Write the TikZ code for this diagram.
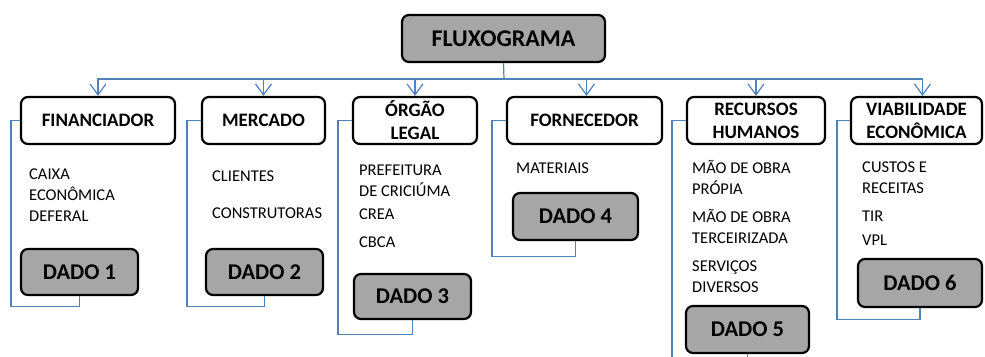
\documentclass[tikz,border=0pt]{standalone}
\usepackage{fontspec}
\setmainfont{Carlito}
\usetikzlibrary{arrows.meta}
\definecolor{cinza}{RGB}{166,166,166}
\definecolor{azul}{RGB}{79,129,189}

\begin{document}
\begin{tikzpicture}[x=1pt,y=-1pt,
   caixa/.style={draw,line width=2.2pt,rounded corners=7pt,align=center,inner sep=0pt},
   cabec/.style={caixa,fill=white,minimum height=47pt,font=\fontsize{19}{23}\selectfont\bfseries},
   dado/.style={caixa,fill=cinza,minimum height=46pt,minimum width=117pt,font=\fontsize{22.5}{26}\selectfont\bfseries},
   item/.style={anchor=base west,inner sep=0pt,align=left,font=\fontsize{16.5}{21}\selectfont},
   seta/.style={azul,line width=1.2pt,-{Straight Barb[length=11pt,width=16pt]}},
   ligacao/.style={azul,line width=1.2pt}]
   \useasboundingbox (0,0) rectangle (985,356);
   % titulo
   \node[caixa,fill=cinza,minimum width=203pt,minimum height=47pt,
         font=\fontsize{24}{28}\selectfont\bfseries] (fluxo) at (503.5,38.5) {FLUXOGRAMA};
   \coordinate (tronco) at (504,79);
   % cabecalhos
   \node[cabec,minimum width=154pt] (fin)  at (98,120.5)    {FINANCIADOR};
   \node[cabec,minimum width=123pt] (merc) at (263.5,120.5) {MERCADO};
   \node[cabec,minimum width=124pt] (org)  at (415,120.5)   {ÓRGÃO\\LEGAL};
   \node[cabec,minimum width=155pt] (forn) at (584.5,120.5) {FORNECEDOR};
   \node[cabec,minimum width=138pt] (rh)   at (756,120.5)   {RECURSOS\\HUMANOS};
   \node[cabec,minimum width=131pt] (viab) at (916.5,120.5) {VIABILIDADE\\ECONÔMICA};
   % itens (base = ultima linha)
   \node[item] (caixa) at (29,221)  {CAIXA\\ECONÔMICA\\DEFERAL};
   \node[item] (cli)   at (212,181) {CLIENTES};
   \node[item] (const) at (212,218) {CONSTRUTORAS};
   \node[item] (pref)  at (359,196) {PREFEITURA\\DE CRICIÚMA};
   \node[item] (crea)  at (359,219) {CREA};
   \node[item] (cbca)  at (359,247) {CBCA};
   \node[item] (mat)   at (516,173) {MATERIAIS};
   \node[item] (prop)  at (692,194) {MÃO DE OBRA\\PRÓPIA};
   \node[item] (terc)  at (692,243) {MÃO DE OBRA\\TERCEIRIZADA};
   \node[item] (serv)  at (692,292) {SERVIÇOS\\DIVERSOS};
   \node[item] (custo) at (862,193) {CUSTOS E\\RECEITAS};
   \node[item] (tir)   at (862,221) {TIR};
   \node[item] (vpl)   at (862,245) {VPL};
   % dados
   \node[dado] (d1) at (79.5,272)  {DADO 1};
   \node[dado] (d2) at (264.5,272) {DADO 2};
   \node[dado,minimum height=45pt] (d3) at (412.5,296.5) {DADO 3};
   \node[dado,minimum width=125pt,minimum height=47pt] (d4) at (575.5,216.5) {DADO 4};
   \node[dado,minimum width=123pt,minimum height=47pt] (d5) at (747.5,329.5) {DADO 5};
   \node[dado,minimum width=124pt,minimum height=48pt] (d6) at (920,283)    {DADO 6};
   % ligacoes
   \draw[ligacao] (fluxo.south) -- (tronco);
   \draw[seta] (tronco) -| (fin.north);
   \draw[seta] (tronco) -| (merc.north);
   \draw[seta] (tronco) -| (org.north);
   \draw[seta] (tronco) -| ([xshift=2pt]forn.north);
   \draw[seta] (tronco) -| (rh.north);
   \draw[seta] (tronco) -| ([xshift=6pt]viab.north);
   \draw[ligacao] (fin.west)  -- ++(-9,0)  |- ([yshift=-10pt]d1.south) -- (d1.south);
   \draw[ligacao] (merc.west) -- ++(-14,0) |- ([yshift=-10pt]d2.south) -- (d2.south);
   \draw[ligacao] (org.west)  -- ++(-14,0) |- ([yshift=-14pt]d3.south) -- (d3.south);
   \draw[ligacao] (forn.west) -- ++(-14,0) |- ([yshift=-15pt]d4.south) -- (d4.south);
   \draw[ligacao] (rh.west)   -- ++(-14,0) |- ([yshift=-15pt]d5.south) -- (d5.south);
   \draw[ligacao] (viab.west) -- ++(-13,0) |- ([yshift=-11pt]d6.south) -- (d6.south);
\end{tikzpicture}
\end{document}
